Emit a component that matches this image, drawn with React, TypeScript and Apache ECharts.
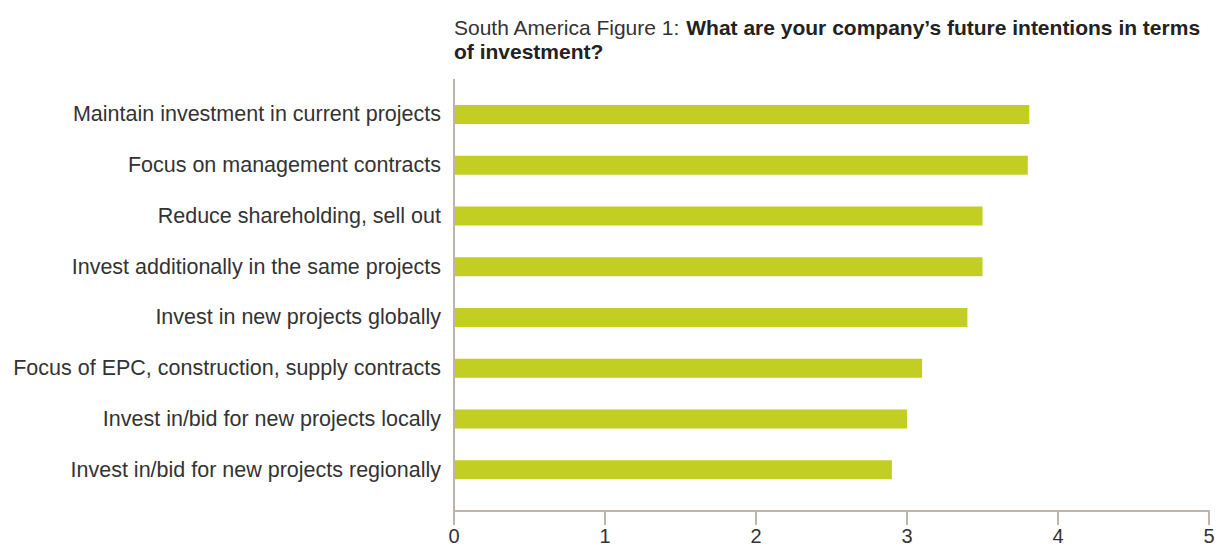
import React, { useEffect, useRef } from "react";
import * as echarts from "echarts";

const categories = [
  "Maintain investment in current projects",
  "Focus on management contracts",
  "Reduce shareholding, sell out",
  "Invest additionally in the same projects",
  "Invest in new projects globally",
  "Focus of EPC, construction, supply contracts",
  "Invest in/bid for new projects locally",
  "Invest in/bid for new projects regionally",
];
const values = [3.81, 3.8, 3.5, 3.5, 3.4, 3.1, 3.0, 2.9];
const xTicks = [0, 1, 2, 3, 4, 5];

const FONT = "'Liberation Sans', Arial, Helvetica, sans-serif";

export default function App() {
  const ref = useRef<HTMLDivElement>(null);
  useEffect(() => {
    if (!ref.current) return;
    const chart = echarts.init(ref.current, null, { renderer: "svg" });
    chart.setOption({
      animation: false,
      backgroundColor: "#ffffff",
      textStyle: { fontFamily: FONT },
      title: {
        left: 454,
        top: 15,
        padding: 0,
        text:
          "{a|South America Figure 1: }{b|What are your company\u2019s future intentions in terms}\n{b|of investment?}",
        textStyle: {
          fontWeight: "normal",
          rich: {
            a: { fontSize: 21, color: "#333333", fontWeight: "normal", fontFamily: FONT, lineHeight: 24 },
            b: { fontSize: 21, color: "#222222", fontWeight: "bold", fontFamily: FONT, lineHeight: 24 },
          },
        },
      },
      grid: { left: 454, right: 17, top: 89, height: 406, containLabel: false },
      xAxis: {
        type: "value",
        min: 0,
        max: 5,
        interval: 1,
        offset: 16,
        axisLine: { show: true, lineStyle: { color: "#bdb5ac", width: 2 } },
        axisTick: { show: true, length: 14, lineStyle: { color: "#bdb5ac", width: 2 } },
        axisLabel: {
          margin: 15,
          fontSize: 20,
          color: "#333333",
          fontFamily: FONT,
          formatter: (v: number) => (xTicks.includes(v) ? String(v) : ""),
        },
        splitLine: { show: false },
      },
      yAxis: {
        type: "category",
        inverse: true,
        data: categories,
        axisLine: { show: false },
        axisTick: { show: false },
        axisLabel: { margin: 13, fontSize: 21.5, color: "#333333", fontFamily: FONT },
      },
      graphic: [
        {
          type: "line",
          shape: { x1: 454, y1: 79, x2: 454, y2: 511 },
          style: { stroke: "#bdb5ac", lineWidth: 2 },
          z: 10,
        },
      ],
      series: [
        {
          type: "bar",
          data: values,
          barWidth: 19,
          itemStyle: { color: "#c2ce22" },
        },
      ],
    });
    return () => chart.dispose();
  }, []);
  return (
    <div
      ref={ref}
      style={{ position: "fixed", left: 0, top: 0, width: 1226, height: 547 }}
    />
  );
}
